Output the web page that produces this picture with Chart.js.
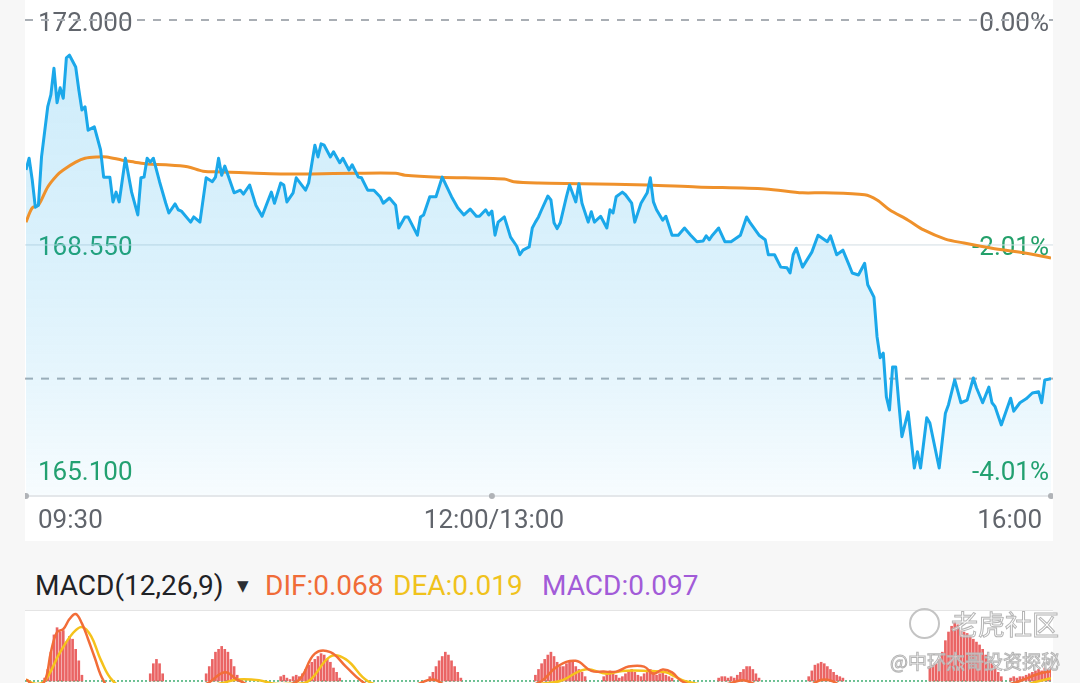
<!DOCTYPE html>
<html>
<head>
<meta charset="utf-8">
<script src="https://cdn.jsdelivr.net/npm/chart.js@4.4.1/dist/chart.umd.min.js"></script>
<style>
  html, body { margin: 0; padding: 0; }
  body { width: 1080px; height: 683px; overflow: hidden; background: #f7f7f7; position: relative; font-family: Roboto, "Noto Sans", sans-serif; }
  #pricePanel { position: absolute; left: 25px; top: 0; width: 1028px; height: 541px; background: #fff; }
  #macdHead { position: absolute; top: 571px; left: 0; height: 30px; font-size: 28px; line-height: 30px; white-space: nowrap; }
  #macdHead span { position: absolute; top: 0; }
  #macdPanel { position: absolute; left: 25px; top: 610px; width: 1028px; height: 72px; background: #fff; border-top: 1px solid #e4e4e4; }
  canvas { display: block; }
  .wm { position: absolute; white-space: nowrap; color: rgba(255,255,255,0.6); -webkit-text-stroke: 1px #b5b5b5; font-family: "Noto Sans CJK SC", sans-serif; z-index: 5; }
  #wmLogo { position: absolute; left: 909px; top: 608px; width: 27px; height: 27px; border: 2px solid #c4c4c4; border-radius: 50%; z-index: 5; }
</style>
</head>
<body>
<div id="pricePanel"><canvas id="priceChart" width="1028" height="541"></canvas></div>
<div id="macdHead">
  <span style="left:35px;color:#1f2226">MACD(12,26,9)</span>
  <span style="left:237px;color:#2b2e33;font-size:15px;font-family:'DejaVu Sans'">▼</span>
  <span style="left:265px;color:#f06c38">DIF:0.068</span>
  <span style="left:393px;color:#f0c21c">DEA:0.019</span>
  <span style="left:542px;color:#a25bd8">MACD:0.097</span>
</div>
<div id="macdPanel"><canvas id="macdChart" width="1028" height="72"></canvas></div>
<div id="wmLogo"></div>
<div class="wm" style="left:951px;top:604px;font-size:27px;">老虎社区</div>
<div class="wm" style="left:890px;top:647px;font-size:19px;">@中环杰哥投资探秘</div>

<script>
// 昨收与刻度
const prevClose = 172.0;
const priceTicks = [172.0, 168.55, 165.1];
const timeTicks = [0, 150, 330];
const timeLabels = ['09:30', '12:00/13:00', '16:00'];

// 分时价格 (分钟序号, 0 = 09:30, 150 = 12:00/13:00, 330 = 16:00)
const priceMinutes = [
  0, 1, 2, 3, 4, 5, 7, 8, 9, 10,
  11, 12, 13, 14, 16, 17, 18, 19, 20, 22,
  24, 25, 27, 28, 29, 30, 32, 34, 36, 37,
  38, 39, 40, 41, 43, 45, 46, 48, 49, 50,
  53, 54, 56, 58, 60, 61, 62, 63, 64, 67,
  69, 70, 72, 74, 76, 78, 79, 80, 82, 83,
  84, 86, 87, 90, 91, 93, 94, 95, 96, 98,
  99, 101, 102, 104, 105, 107, 108, 110, 112, 114,
  115, 117, 119, 120, 122, 123, 126, 127, 128, 130,
  132, 134, 137, 139, 141, 143, 145, 146, 148, 149,
  150, 151, 152, 154, 156, 158, 159, 160, 162, 163,
  164, 165, 166, 168, 169, 170, 171, 172, 174, 175,
  177, 178, 179, 181, 182, 183, 185, 187, 188, 189,
  190, 192, 193, 195, 196, 198, 200, 201, 202, 203,
  205, 206, 208, 210, 212, 214, 216, 218, 219, 220,
  221, 223, 225, 227, 230, 232, 233, 236, 238, 239,
  241, 243, 245, 246, 247, 248, 250, 253, 255, 258,
  259, 261, 263, 265, 266, 268, 270, 271, 273, 274,
  275, 276, 277, 278, 279, 280, 281, 282, 284, 286,
  287, 288, 290, 291, 294, 296, 297, 299, 301, 303,
  305, 306, 308, 310, 311, 312, 314, 317, 318, 320,
  322, 324, 326, 327, 328, 330
];
const prices = [
  169.70, 169.88, 169.55, 169.13, 169.16, 169.90, 170.67, 170.85, 171.26, 170.73,
  170.96, 170.80, 171.42, 171.46, 171.28, 170.93, 170.62, 170.67, 170.31, 170.36,
  170.01, 169.59, 169.59, 169.21, 169.36, 169.21, 169.88, 169.36, 169.01, 169.58,
  169.59, 169.88, 169.82, 169.88, 169.52, 169.19, 169.04, 169.18, 169.09, 169.07,
  168.90, 168.98, 168.90, 169.58, 169.52, 169.59, 169.88, 169.62, 169.76, 169.35,
  169.39, 169.33, 169.47, 169.16, 168.99, 169.24, 169.36, 169.19, 169.50, 169.47,
  169.21, 169.35, 169.58, 169.39, 169.50, 170.08, 169.90, 170.10, 170.08, 169.90,
  169.98, 169.81, 169.88, 169.70, 169.78, 169.59, 169.58, 169.39, 169.39, 169.29,
  169.19, 169.27, 169.16, 168.81, 168.98, 168.98, 168.70, 168.98, 169.01, 169.29,
  169.29, 169.59, 169.29, 169.12, 169.01, 169.10, 168.99, 168.99, 169.09, 169.01,
  169.07, 168.70, 168.90, 168.98, 168.67, 168.53, 168.40, 168.47, 168.52, 168.81,
  168.90, 168.98, 169.09, 169.30, 169.24, 168.89, 168.80, 168.89, 169.29, 169.47,
  169.21, 169.49, 169.19, 168.90, 169.06, 168.90, 168.99, 168.81, 169.09, 169.04,
  169.29, 169.36, 169.32, 169.19, 168.90, 169.19, 169.35, 169.58, 169.21, 169.09,
  168.93, 168.99, 168.70, 168.70, 168.81, 168.70, 168.60, 168.61, 168.69, 168.63,
  168.70, 168.81, 168.60, 168.60, 168.70, 168.98, 168.90, 168.70, 168.63, 168.40,
  168.40, 168.21, 168.20, 168.12, 168.40, 168.50, 168.21, 168.44, 168.70, 168.60,
  168.69, 168.40, 168.47, 168.24, 168.12, 168.09, 168.27, 167.94, 167.75, 167.14,
  166.82, 166.89, 166.22, 166.02, 166.68, 166.68, 166.13, 165.61, 165.99, 165.13,
  165.38, 165.13, 165.90, 165.82, 165.13, 165.97, 166.10, 166.48, 166.13, 166.17,
  166.51, 166.36, 166.13, 166.37, 166.13, 166.07, 165.79, 166.20, 166.00, 166.13,
  166.19, 166.28, 166.30, 166.13, 166.48, 166.50
];

// 均价线
const avgMinutes = [0, 2, 4, 7, 10, 12, 16, 19, 23, 26, 31, 35, 39, 45, 52, 57, 63, 74, 82, 92, 106, 119,
  122, 133, 154, 157, 165, 179, 200, 216, 238, 250, 257, 270, 274, 278, 284, 289, 296, 302, 311, 321, 330];
const avgPrices = [168.90, 169.12, 169.16, 169.44, 169.62, 169.70, 169.82, 169.88, 169.90, 169.90, 169.85,
  169.82, 169.79, 169.78, 169.75, 169.68, 169.67, 169.65, 169.64, 169.64, 169.65, 169.65,
  169.62, 169.59, 169.56, 169.52, 169.50, 169.49, 169.47, 169.44, 169.41, 169.35, 169.35,
  169.32, 169.24, 169.09, 168.93, 168.78, 168.64, 168.58, 168.50, 168.43, 168.35];

// MACD 柱 (起始分钟, 连续数值)
const macdHist = [
  [6, [0.02, 0.08, 0.2, 0.32, 0.37, 0.34, 0.35, 0.27, 0.31, 0.29, 0.22, 0.14, 0.04]],
  [40, [0.05, 0.12, 0.15, 0.12, 0.05]],
  [58, [0.05, 0.1, 0.15, 0.2, 0.22, 0.24, 0.22, 0.2, 0.15, 0.1, 0.04]],
  [82, [0.03, 0.04, 0.02, 0.01, 0.03, 0.04, 0.03, 0.05, 0.08, 0.11, 0.13, 0.15, 0.17, 0.19, 0.18, 0.15, 0.13, 0.09, 0.06, 0.02]],
  [130, [0.03, 0.06, 0.1, 0.14, 0.17, 0.2, 0.18, 0.14, 0.1, 0.06, 0.02]],
  [164, [0.04, 0.08, 0.12, 0.15, 0.18, 0.2, 0.17, 0.13, 0.1, 0.1, 0.12, 0.14, 0.13, 0.1, 0.08, 0.06, 0.03]],
  [186, [0.03, 0.05, 0.07, 0.06, 0.04, 0.02, 0.03, 0.05, 0.07, 0.08, 0.06, 0.04, 0.03, 0.05, 0.07, 0.08, 0.06, 0.04, 0.05, 0.06, 0.04, 0.03, 0.02]],
  [223, [0.02, 0.03, 0.03, 0.02, 0.03, 0.02, 0.04, 0.06, 0.08, 0.1, 0.1, 0.08, 0.05, 0.02]],
  [252, [0.03, 0.07, 0.11, 0.12, 0.13, 0.12, 0.1, 0.08, 0.06, 0.04, 0.03, 0.02]],
  [291, [0.1, 0.11, 0.12, 0.15, 0.2, 0.28, 0.34, 0.38, 0.41, 0.39, 0.35, 0.34, 0.33, 0.31, 0.29, 0.27, 0.25, 0.22, 0.18, 0.14, 0.12, 0.1, 0.06, 0.03]],
  [317, [0.02, 0.03, 0.02, 0.03, 0.03, 0.04, 0.05, 0.06, 0.07, 0.08, 0.07, 0.09, 0.08, 0.097]]
];

// DIF / DEA
const difMinutes = [0, 3, 6, 8, 10, 12, 14, 16, 18, 20, 22, 25, 30, 45, 58, 64, 68, 75, 82, 88,
  93, 98, 103, 108, 115, 125, 131, 136, 150, 160, 166, 171, 177, 182, 186, 190, 194, 199, 202, 205,
  208, 211, 218, 226, 231, 237, 250, 257, 263, 272, 285, 300, 312, 320, 326, 330];
const difValues = [0.01, -0.03, 0.0, 0.2, 0.34, 0.36, 0.43, 0.465, 0.4, 0.29, 0.17, 0.0, -0.12, -0.1, -0.02, 0.06, 0.01, -0.05, -0.04, 0.01,
  0.19, 0.2, 0.1, 0.0, -0.08, -0.03, 0.01, -0.04, -0.1, -0.05, 0.0, 0.1, 0.14, 0.07, 0.065, 0.065, 0.1, 0.1, 0.05, 0.08,
  0.06, 0.0, -0.05, -0.02, 0.005, -0.04, -0.05, 0.01, -0.05, -0.3, -0.45, -0.25, -0.06, 0.0, 0.05, 0.068];
const deaMinutes = [0, 3, 6, 11, 15, 18, 21, 24, 28, 35, 55, 64, 68, 75, 80, 85, 91, 98, 103, 110,
  118, 130, 150, 165, 172, 180, 187, 192, 200, 206, 209, 212, 220, 250, 265, 280, 295, 310, 322, 330];
const deaValues = [0.01, -0.02, 0.0, 0.2, 0.33, 0.375, 0.31, 0.15, 0.0, -0.08, -0.05, -0.01, 0.01, 0.005, -0.02, -0.02, 0.0, 0.17, 0.15, 0.0,
  -0.04, -0.03, -0.06, -0.02, 0.0, 0.08, 0.05, 0.07, 0.07, 0.06, 0.03, 0.0, -0.03, -0.03, -0.05, -0.2, -0.35, -0.2, -0.03, 0.019];

const pts = (xs, ys) => xs.map((m, i) => ({ x: m, y: ys[i] }));
const GRAY = '#61656c';
const GREEN = '#23a06a';

// 参考线、底部时间轴
const priceGuides = {
  id: 'priceGuides',
  beforeDatasetsDraw(chart) {
    const { ctx, scales: { y } } = chart;
    const hline = (v, color, dash, w) => {
      const py = y.getPixelForValue(v);
      ctx.save();
      ctx.strokeStyle = color;
      ctx.lineWidth = w;
      ctx.setLineDash(dash);
      ctx.beginPath();
      ctx.moveTo(0, py);
      ctx.lineTo(chart.width, py);
      ctx.stroke();
      ctx.restore();
    };
    hline(prevClose, '#a9aeb4', [8, 8], 2);
    hline(priceTicks[1], '#d2dde3', [], 1);
    hline(prices[prices.length - 1], '#a9aeb4', [8, 8], 2);
  },
  afterDraw(chart) {
    const { ctx, chartArea: a, scales: { x } } = chart;
    ctx.save();
    ctx.strokeStyle = '#e4e7ea';
    ctx.lineWidth = 2;
    ctx.beginPath();
    ctx.moveTo(0, a.bottom);
    ctx.lineTo(chart.width, a.bottom);
    ctx.stroke();
    ctx.fillStyle = '#b0b3b7';
    timeTicks.forEach(t => {
      ctx.beginPath();
      ctx.arc(x.getPixelForValue(t), a.bottom, 3, 0, Math.PI * 2);
      ctx.fill();
    });
    ctx.font = '26px Roboto';
    ctx.fillStyle = GRAY;
    ctx.textBaseline = 'middle';
    const ty = a.bottom + 25;
    ctx.textAlign = 'left';
    ctx.fillText(timeLabels[0], x.getPixelForValue(timeTicks[0]) + 12, ty);
    ctx.textAlign = 'center';
    ctx.fillText(timeLabels[1], x.getPixelForValue(timeTicks[1]) + 2, ty);
    ctx.textAlign = 'right';
    ctx.fillText(timeLabels[2], x.getPixelForValue(timeTicks[2]) - 9, ty);
    ctx.restore();
  }
};

const fillGradient = (c) => {
  const { chart } = c;
  const a = chart.chartArea;
  if (!a) return 'rgba(27,168,234,0.15)';
  const g = chart.ctx.createLinearGradient(0, a.top, 0, a.bottom);
  g.addColorStop(0, 'rgba(27,168,234,0.22)');
  g.addColorStop(0.5, 'rgba(27,168,234,0.16)');
  g.addColorStop(0.75, 'rgba(27,168,234,0.11)');
  g.addColorStop(1, 'rgba(27,168,234,0.035)');
  return g;
};

const tickColor = c => (c.tick && c.tick.value === prevClose ? GRAY : GREEN);
const setTicks = axis => { axis.ticks = priceTicks.map(v => ({ value: v })); };
// 标签画在图内, 不占用绘图区
const noSpace = axis => {
  axis.width = 0;
  axis.paddingTop = 0; axis.paddingBottom = 0;
  axis.paddingLeft = 0; axis.paddingRight = 0;
};

new Chart(document.getElementById('priceChart'), {
  type: 'line',
  data: {
    datasets: [
      { label: '价格', data: pts(priceMinutes, prices), borderColor: '#1ba8ea', borderWidth: 3, pointRadius: 0, fill: false, tension: 0, borderJoinStyle: 'round' },
      { label: '均价', data: pts(avgMinutes, avgPrices), borderColor: '#ef912b', borderWidth: 3, pointRadius: 0, fill: false, tension: 0.3 },
      { label: '面积', data: pts(priceMinutes, prices), borderWidth: 0, pointRadius: 0, fill: 'start', backgroundColor: fillGradient, tension: 0 }
    ]
  },
  options: {
    responsive: false,
    animation: false,
    events: [],
    layout: { padding: { top: 20, bottom: 45, left: 1, right: 2 } },
    plugins: { legend: { display: false }, tooltip: { enabled: false } },
    scales: {
      x: { type: 'linear', min: 0, max: 330, display: false },
      y: {
        position: 'left', min: 164.7, max: 172, z: 1,
        grid: { display: false }, border: { display: false },
        afterBuildTicks: setTicks, afterFit: noSpace,
        ticks: { mirror: true, padding: 12, labelOffset: 4, autoSkip: false, color: tickColor, font: { family: 'Roboto', size: 26 }, callback: v => v.toFixed(3) }
      },
      y2: {
        position: 'right', min: 164.7, max: 172, z: 1,
        grid: { display: false }, border: { display: false },
        afterBuildTicks: setTicks, afterFit: noSpace,
        ticks: { mirror: true, padding: -2, labelOffset: 4, autoSkip: false, color: tickColor, font: { family: 'Roboto', size: 26 }, callback: v => ((v / prevClose - 1) * 100).toFixed(2) + '%' }
      }
    }
  },
  plugins: [priceGuides]
});

// MACD
const histPoints = [];
macdHist.forEach(([start, vals]) => vals.forEach((v, i) => histPoints.push({ x: start + i, y: v })));

const zeroLine = {
  id: 'zeroLine',
  beforeDatasetsDraw(chart) {
    const { ctx, scales: { y } } = chart;
    const py = y.getPixelForValue(0);
    ctx.save();
    ctx.strokeStyle = '#3fae72';
    ctx.lineWidth = 1.5;
    ctx.setLineDash([2, 2]);
    ctx.beginPath();
    ctx.moveTo(0, py);
    ctx.lineTo(chart.width, py);
    ctx.stroke();
    ctx.restore();
  }
};

new Chart(document.getElementById('macdChart'), {
  type: 'bar',
  data: {
    datasets: [
      { type: 'line', label: 'DIF', data: pts(difMinutes, difValues), borderColor: '#f26d38', borderWidth: 2.5, pointRadius: 0, tension: 0.4 },
      { type: 'line', label: 'DEA', data: pts(deaMinutes, deaValues), borderColor: '#f5c21b', borderWidth: 2.5, pointRadius: 0, tension: 0.4 },
      { type: 'bar', label: 'MACD', data: histPoints, backgroundColor: '#ea6464', barThickness: 2 }
    ]
  },
  options: {
    responsive: false,
    animation: false,
    events: [],
    layout: { padding: { top: 0, bottom: 0, left: 1, right: 2 } },
    plugins: { legend: { display: false }, tooltip: { enabled: false } },
    scales: {
      x: { type: 'linear', min: 0, max: 330, offset: false, display: false },
      y: { min: -0.014, max: 0.486, display: false }
    }
  },
  plugins: [zeroLine]
});
</script>
</body>
</html>
